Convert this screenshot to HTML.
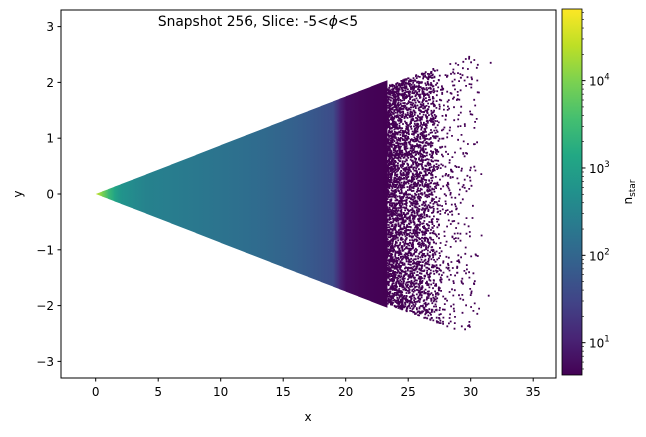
<!DOCTYPE html>
<html><head><meta charset="utf-8"><style>
body{margin:0;background:#fff;font-family:"Liberation Sans","DejaVu Sans",sans-serif;}
svg text{font-family:"DejaVu Sans","Liberation Sans",sans-serif;font-size:12px;fill:#000}
</style></head><body>
<svg id="c" width="646" height="432" viewBox="0 0 646 432" xmlns="http://www.w3.org/2000/svg">
<defs><linearGradient id="vir" x1="0" y1="1" x2="0" y2="0">
<stop offset="0" stop-color="#440154"/><stop offset="0.1" stop-color="#482475"/><stop offset="0.2" stop-color="#414487"/><stop offset="0.3" stop-color="#355f8d"/><stop offset="0.4" stop-color="#2a788e"/><stop offset="0.5" stop-color="#21918c"/><stop offset="0.6" stop-color="#22a884"/><stop offset="0.7" stop-color="#44bf70"/><stop offset="0.8" stop-color="#7ad151"/><stop offset="0.9" stop-color="#bddf26"/><stop offset="1" stop-color="#fde725"/></linearGradient>
<clipPath id="pc"><rect x="61" y="10" width="495" height="368"/></clipPath></defs>
<g id="plot" clip-path="url(#pc)"></g>
<rect x="61" y="10" width="495" height="368" fill="none" stroke="#000" stroke-width="1"/>
<g id="axes"></g>
<text x="258" y="26" text-anchor="middle" style="font-size:13.8px">Snapshot 256, Slice: -5&lt;<tspan font-style="italic">ϕ</tspan>&lt;5</text>
<text x="308" y="421" text-anchor="middle">x</text>
<text x="22" y="194" text-anchor="middle" transform="rotate(-90 22 194)">y</text>
<rect x="562" y="9" width="20" height="366" fill="url(#vir)" stroke="#000" stroke-width="0.8"/>
<g id="cbar"></g>
<text x="632" y="192" text-anchor="middle" transform="rotate(-90 632 192)">n<tspan font-size="9" dy="3">star</tspan></text>
</svg>
<script>
const xTicks=[0,5,10,15,20,25,30,35];
const yTicks=[-3,-2,-1,0,1,2,3];
const cbTicks=[1,2,3,4];
const wedgeX=[0,0.5,1,1.5,2,3,4,6,8,10,12,14,15,16,17,18,19,19.5,20,21,22,23.3];
const wedgeDensity=[30000,10000,3000,1200,600,400,300,250,200,170,140,110,95,80,65,50,38,12,6,5,4.5,4.3];
const dotX=[23.5,24,24.5,25,25.5,26,26.5,27,27.5,28,28.5,29,29.5,30,30.5,31,31.5,32];
const dotCount=[650,700,560,470,440,420,390,310,160,75,75,65,48,45,30,4,1,1];
const slope=0.0875, dotSlope=0.084, cMin=0.63, cMax=4.82;
const X=v=>95.7+v*12.5, Y=v=>194-v*55.8;
const NS='http://www.w3.org/2000/svg';
const stops=[[68,1,84],[72,36,117],[65,68,135],[53,95,141],[42,120,142],[33,145,140],[34,168,132],[68,191,112],[122,209,81],[189,223,38],[253,231,37]];
function vir(t){t=Math.max(0,Math.min(1,t))*10;const i=Math.min(9,Math.floor(t)),f=t-i,a=stops[i],b=stops[i+1];return `rgb(${a.map((v,k)=>Math.round(v+(b[k]-v)*f)).join(',')})`;}
const cScale=d=>(Math.log10(d)-cMin)/(cMax-cMin);
const plot=document.getElementById('plot');
for(let i=0;i<wedgeX.length-1;i++){
 const x0=wedgeX[i],x1=wedgeX[i+1];
 const p=document.createElementNS(NS,'polygon');
 p.setAttribute('points',`${X(x0)},${Y(x0*slope)} ${X(x1)+0.5},${Y(x1*slope)} ${X(x1)+0.5},${Y(-x1*slope)} ${X(x0)},${Y(-x0*slope)}`);
 const g=document.createElementNS(NS,'linearGradient');
 g.setAttribute('id','wg'+i);
 g.innerHTML=`<stop offset="0" stop-color="${vir(cScale(wedgeDensity[i]))}"/><stop offset="1" stop-color="${vir(cScale(wedgeDensity[i+1]))}"/>`;
 document.querySelector('defs').appendChild(g);
 p.setAttribute('fill',`url(#wg${i})`);
 
 
 plot.appendChild(p);
}
let seed=7;const rnd=()=>{seed=(seed*16807)%2147483647;return seed/2147483647;};
let d='';
for(let i=0;i<dotX.length;i++){
 for(let k=0;k<dotCount[i];k++){
  const xx=dotX[i]-0.25+(rnd()-0.5)*0.5;
  const hw=xx*dotSlope;
  const yv=(rnd()*2-1)*hw;
  d+=`M${X(xx).toFixed(1)} ${Y(yv).toFixed(1)}h1.8v1.8h-1.8z`;
 }
}
const dots=document.createElementNS(NS,'path');
dots.setAttribute('d',d);dots.setAttribute('fill','#440154');


plot.appendChild(dots);
const ax=document.getElementById('axes');
function add(tag,attrs,txt){const e=document.createElementNS(NS,tag);for(const k in attrs)e.setAttribute(k,attrs[k]);if(txt!==undefined)e.textContent=txt;ax.appendChild(e);return e;}
xTicks.forEach(t=>{
 const l=add('line',{x1:X(t),x2:X(t),y1:378,y2:381.5,stroke:'#000'});
 
 
 const tx=add('text',{x:X(t),y:396,'text-anchor':'middle'},String(t));
 
 
});
yTicks.forEach(t=>{
 const l=add('line',{x1:57.5,x2:61,y1:Y(t),y2:Y(t),stroke:'#000'});
 
 
 const tx=add('text',{x:54,y:Y(t)+4.5,'text-anchor':'end'},String(t).replace('-','\u2212'));
 
 
});
const cb=document.getElementById('cbar');
const CY=v=>375-(v-cMin)/(cMax-cMin)*366;
for(let e=0;e<5;e++)for(let m=1;m<10;m++){
 const v=e+Math.log10(m);if(v<cMin||v>cMax)continue;
 const l=document.createElementNS(NS,'line');
 l.setAttribute('x1',582);l.setAttribute('x2',m===1?585.5:584);l.setAttribute('y1',CY(v));l.setAttribute('y2',CY(v));l.setAttribute('stroke','#000');l.setAttribute('stroke-width',m===1?1:0.6);
 
 
 cb.appendChild(l);
}
cbTicks.forEach(e=>{
 const t=document.createElementNS(NS,'text');
 t.setAttribute('x',589);t.setAttribute('y',CY(e)+5);
 t.innerHTML=`10<tspan font-size="8.5" dy="-6">${e}</tspan>`;
 
 
 cb.appendChild(t);
});
</script>
</body></html>
